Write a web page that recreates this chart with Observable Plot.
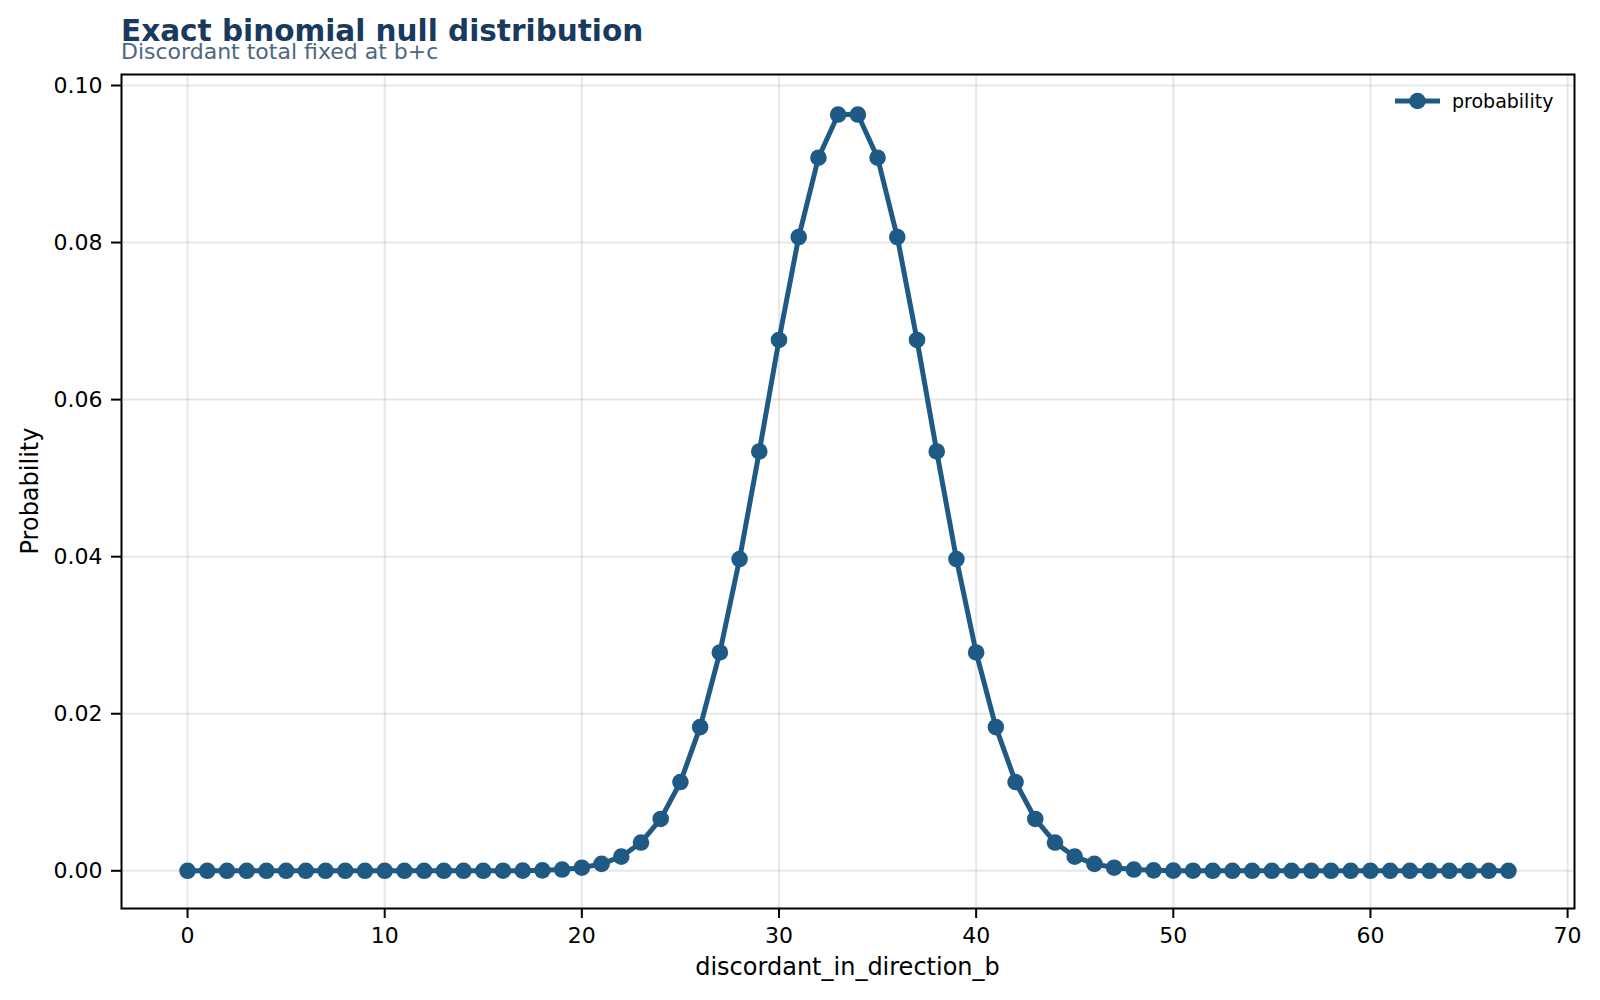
<!DOCTYPE html>
<html>
<head>
<meta charset="utf-8">
<script src="https://cdn.jsdelivr.net/npm/d3@7"></script>
<script src="https://cdn.jsdelivr.net/npm/@observablehq/plot@0.6"></script>
<style>
  html, body { margin: 0; padding: 0; background: #fff; }
  #wrap { position: relative; width: 1600px; height: 1000px; font-family: "DejaVu Sans", sans-serif; }
  #title { position: absolute; left: 121px; top: 17px; font-size: 29.5px; font-weight: bold; color: #173a5e; white-space: nowrap; line-height: 1; }
  #subtitle { position: absolute; left: 121px; top: 41px; font-size: 22px; color: #4d6780; white-space: nowrap; line-height: 1; }
</style>
</head>
<body>
<div id="wrap">
  <div id="chart"></div>
  <div id="title">Exact binomial null distribution</div>
  <div id="subtitle">Discordant total fixed at b+c</div>
</div>
<script>
const discordantB = [0,1,2,3,4,5,6,7,8,9,10,11,12,13,14,15,16,17,18,19,20,21,22,23,24,25,26,27,28,29,30,31,32,33,34,35,36,37,38,39,40,41,42,43,44,45,46,47,48,49,50,51,52,53,54,55,56,57,58,59,60,61,62,63,64,65,66,67];
const probability = [
  0, 0, 0, 0, 0, 0, 0, 0, 0, 0,
  0, 0, 0, 0, 0, 0, 0.00001, 0.00002, 0.00006, 0.00016,
  0.00039, 0.00088, 0.0018, 0.0036, 0.0066, 0.0113, 0.0183, 0.0278, 0.0397, 0.0534,
  0.0676, 0.0807, 0.0908, 0.0963, 0.0963, 0.0908, 0.0807, 0.0676, 0.0534, 0.0397,
  0.0278, 0.0183, 0.0113, 0.0066, 0.0036, 0.0018, 0.00088, 0.00039, 0.00016, 0.00006,
  0.00002, 0.00001, 0, 0, 0, 0, 0, 0, 0, 0,
  0, 0, 0, 0, 0, 0, 0, 0
];
const xTicks = [0, 10, 20, 30, 40, 50, 60, 70];
const yTicks = [0, 0.02, 0.04, 0.06, 0.08, 0.10];
const seriesName = "probability";
const xLabel = "discordant_in_direction_b";
const yLabel = "Probability";

const data = discordantB.map((k, i) => ({k, p: probability[i]}));
const color = "#1f5a84";

const W = 1600, H = 1000;
const mL = 121, mR = 26, mT = 74, mB = 92;

const chart = Plot.plot({
  width: W,
  height: H,
  marginLeft: mL,
  marginRight: mR,
  marginTop: mT,
  marginBottom: mB,
  style: {fontFamily: "DejaVu Sans, sans-serif", fontSize: "22px", color: "#000", background: "#fff"},
  x: {domain: [-3.35, 70.35], label: null},
  y: {domain: [-0.0048, 0.1014], label: null},
  marks: [
    Plot.gridX(xTicks, {stroke: "#b0b0b0", strokeOpacity: 0.3, strokeWidth: 2}),
    Plot.gridY(yTicks, {stroke: "#b0b0b0", strokeOpacity: 0.3, strokeWidth: 2}),
    Plot.axisX(xTicks, {tickSize: 10, tickPadding: 9, fontSize: 22, stroke: "#000", strokeWidth: 2, label: null, tickFormat: d3.format("d")}),
    Plot.axisY(yTicks, {tickSize: 10, tickPadding: 9, fontSize: 22, stroke: "#000", strokeWidth: 2, label: null, tickFormat: d3.format(".2f")}),
    Plot.line(data, {x: "k", y: "p", stroke: color, strokeWidth: 5}),
    Plot.dot(data, {x: "k", y: "p", fill: color, r: 8.3}),
    Plot.frame({stroke: "#000", strokeWidth: 2})
  ]
});
document.getElementById("chart").appendChild(chart);

const svg = d3.select(chart);
// axis labels
svg.append("text")
  .attr("x", mL + (W - mL - mR) / 2)
  .attr("y", 975)
  .attr("text-anchor", "middle")
  .attr("font-family", "DejaVu Sans, sans-serif")
  .attr("font-size", 24)
  .attr("fill", "#000")
  .text(xLabel);
svg.append("text")
  .attr("transform", `translate(38,${mT + (H - mT - mB) / 2}) rotate(-90)`)
  .attr("text-anchor", "middle")
  .attr("font-family", "DejaVu Sans, sans-serif")
  .attr("font-size", 24)
  .attr("fill", "#000")
  .text(yLabel);
// legend
const lg = svg.append("g");
lg.append("line").attr("x1", 1395).attr("x2", 1440).attr("y1", 101).attr("y2", 101)
  .attr("stroke", color).attr("stroke-width", 5);
lg.append("circle").attr("cx", 1417.5).attr("cy", 101).attr("r", 8.3).attr("fill", color);
lg.append("text").attr("x", 1452).attr("y", 108)
  .attr("text-anchor", "start")
  .attr("font-family", "DejaVu Sans, sans-serif").attr("font-size", 19).attr("fill", "#000")
  .text(seriesName);
</script>
</body>
</html>
